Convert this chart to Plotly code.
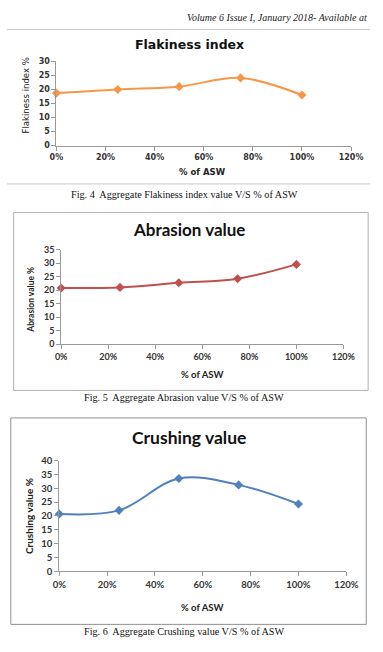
import plotly.graph_objects as go

W, H = 383, 652

asw = [0, 0.25, 0.5, 0.75, 1.0]
flakiness = [18.7, 20.0, 21.0, 24.1, 18.0]
abrasion = [20.8, 21.0, 22.7, 24.2, 29.5]
crushing = [20.7, 22.0, 33.5, 31.2, 24.3]

titles = ["Flakiness index", "Abrasion value", "Crushing value"]
ytitles = ["Flakiness index %", "Abrasion value %", "Crushing value %"]
captions = ["Fig. 4  Aggregate Flakiness index value V/S % of ASW",
            "Fig. 5  Aggregate Abrasion value V/S % of ASW",
            "Fig. 6  Aggregate Crushing value V/S % of ASW"]
colors = ["#F79646", "#C0504D", "#4F81BD"]
ymax = [30, 35, 40]


def px(x):
    return x / W


def py(y):
    return 1 - y / H


# plot areas in pixels: (x_left, x_right, y_bottom, y_top)
areas = [(52, 362, 142, 56.3), (57, 354, 344, 247.7), (55, 357, 575, 462.3)]
title_pos = [(192, 39), (192, 227), (192, 439)]
title_fonts = [dict(family="DejaVu Sans", size=12.5, color="#111111", weight="bold"),
               dict(family="Lato", size=17, color="#111111", weight="bold"),
               dict(family="Lato", size=17.5, color="#111111", weight="bold")]
tick_fonts = [dict(family="DejaVu Sans", size=8, color="#333333", weight="bold"),
              dict(family="Lato", size=9, color="#333333", weight="bold"),
              dict(family="Lato", size=9.5, color="#333333", weight="bold")]
ytitle_fonts = [dict(family="Liberation Sans Narrow, DejaVu Sans Condensed, Lato", size=9.5, color="#222222"),
                dict(family="Lato", size=8.5, color="#222222", weight="bold"),
                dict(family="Lato", size=10, color="#222222", weight="bold")]
xtitle_fonts = [dict(family="DejaVu Sans", size=8.5, color="#222222", weight="bold"),
                dict(family="Lato", size=9.5, color="#222222", weight="bold"),
                dict(family="Lato", size=9.5, color="#222222", weight="bold")]
ytitle_pos = [(19, 91), (25, 299), (23, 519)]
xtitle_pos = [(206, 169), (205, 375), (205, 612)]
caption_pos = [(187, 192), (186, 398), (187, 636)]

fig = go.Figure()
series = [flakiness, abrasion, crushing]
for i, vals in enumerate(series):
    suf = "" if i == 0 else str(i + 1)
    fig.add_trace(go.Scatter(
        x=asw, y=vals, mode="lines+markers",
        line=dict(color=colors[i], width=2, shape="spline", smoothing=1),
        marker=dict(symbol="diamond", size=7, color=colors[i]),
        cliponaxis=False, showlegend=False,
        xaxis="x" + suf, yaxis="y" + suf))

layout = dict(width=W, height=H, margin=dict(l=0, r=0, t=0, b=0),
              paper_bgcolor="white", plot_bgcolor="white", showlegend=False)

for i, (xl, xr, yb, yt) in enumerate(areas):
    suf = "" if i == 0 else str(i + 1)
    layout["xaxis" + suf] = dict(
        domain=[px(xl), px(xr)], range=[0, 1.2], dtick=0.2, tick0=0,
        tickformat=".0%", showline=True, linecolor="#9a9a9a", linewidth=1,
        ticks="outside", ticklen=4, tickcolor="#9a9a9a", showgrid=False,
        zeroline=False, tickfont=tick_fonts[i], anchor="y" + suf, fixedrange=True)
    layout["yaxis" + suf] = dict(
        domain=[py(yb), py(yt)], range=[0, ymax[i]], dtick=5, tick0=0,
        showline=True, linecolor="#9a9a9a", linewidth=1,
        ticks="outside", ticklen=4, tickcolor="#9a9a9a", showgrid=False,
        zeroline=False, tickfont=tick_fonts[i], anchor="x" + suf, fixedrange=True)

annotations = []


def ann(text, x, y, font, **kw):
    d = dict(text=text, x=px(x), y=py(y), xref="paper", yref="paper",
             xanchor="center", yanchor="middle", showarrow=False, font=font)
    d.update(kw)
    annotations.append(d)


for i in range(3):
    tx, ty = title_pos[i]
    ann(titles[i], tx, ty, title_fonts[i])
    yx, yy = ytitle_pos[i]
    ann(ytitles[i], yx, yy, ytitle_fonts[i], textangle=-90)
    xx, xy = xtitle_pos[i]
    ann("% of ASW", xx, xy, xtitle_fonts[i])
    cx, cy = caption_pos[i]
    ann(captions[i], cx, cy, dict(family="Liberation Serif", size=10.2, color="#111111"))

ann("<i>Volume 6 Issue I, January 2018- Available at</i>", 381, 12,
    dict(family="Liberation Serif", size=10, color="#222222"), xanchor="right")

shapes = [
    dict(type="line", xref="paper", yref="paper", x0=0, x1=px(382), y0=py(24), y1=py(24),
         line=dict(color="#c8c8c8", width=1)),
    dict(type="line", xref="paper", yref="paper", x0=0, x1=px(382), y0=py(181), y1=py(181),
         line=dict(color="#c8c8c8", width=1)),
    dict(type="rect", xref="paper", yref="paper", x0=px(7), x1=px(380), y0=py(391), y1=py(210),
         line=dict(color="#b0b0b0", width=1)),
    dict(type="rect", xref="paper", yref="paper", x0=px(4), x1=px(378), y0=py(629), y1=py(419),
         line=dict(color="#909090", width=1)),
]

layout["annotations"] = annotations
layout["shapes"] = shapes
fig.update_layout(**layout)
fig.write_html("out.html")
